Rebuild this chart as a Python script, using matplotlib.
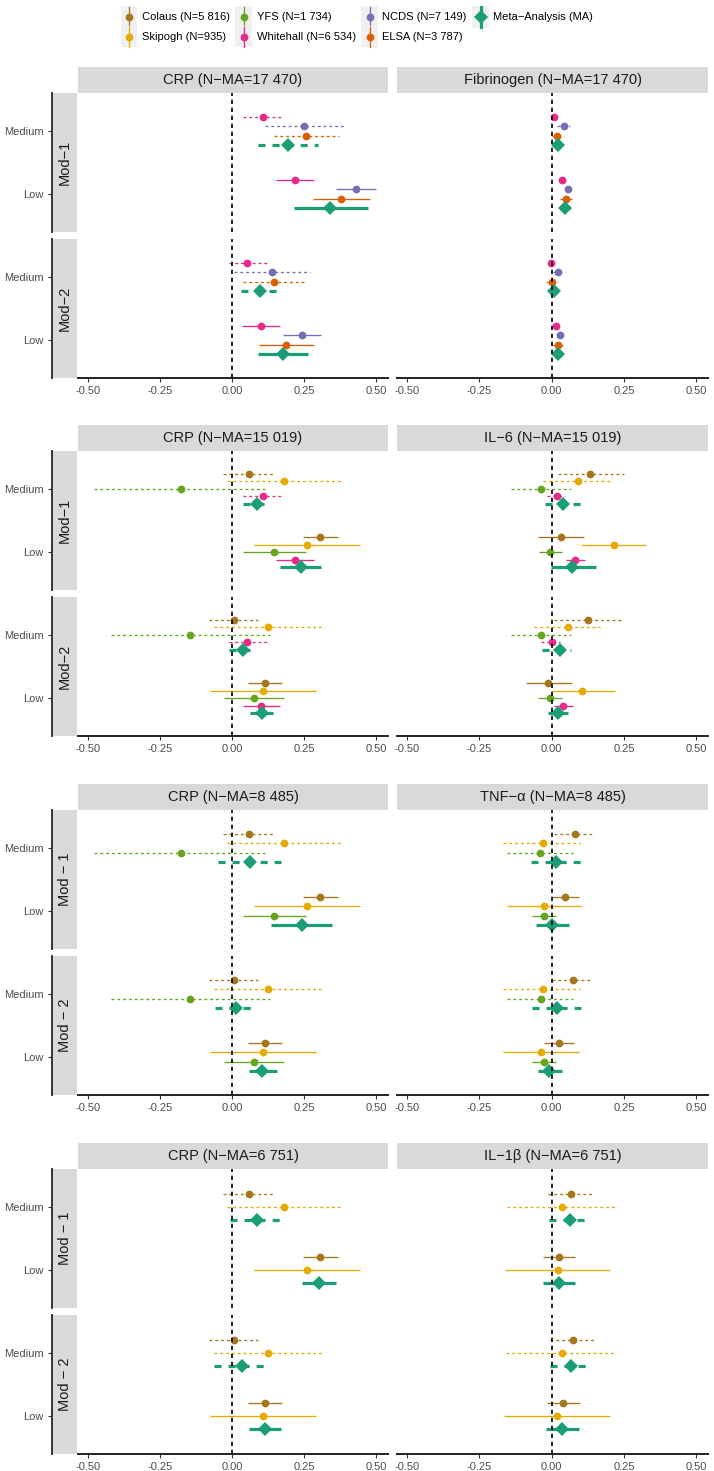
import numpy as np
import matplotlib
matplotlib.use('Agg')
import matplotlib.pyplot as plt
from matplotlib.lines import Line2D
from matplotlib.patches import Rectangle
from matplotlib.legend_handler import HandlerBase

plt.rcParams['font.family'] = ['Liberation Sans', 'DejaVu Sans']

W, H = 714, 1471

# studies, legend labels and colours (Dark2)
studies = ['Colaus', 'Skipogh', 'YFS', 'Whitehall', 'NCDS', 'ELSA', 'MA']
study_labels = ['Colaus (N=5 816)', 'Skipogh (N=935)', 'YFS (N=1 734)', 'Whitehall (N=6 534)',
                'NCDS (N=7 149)', 'ELSA (N=3 787)', 'Meta\u2212Analysis (MA)']
study_colors = ['#A6761D', '#E6AB02', '#66A61E', '#E7298A', '#7570B3', '#D95F02', '#1B9E77']

levels = ['Medium', 'Low']
xticks = [-0.5, -0.25, 0, 0.25, 0.5]
xtick_labels = ['-0.50', '-0.25', '0.00', '0.25', '0.50']

# every list: one row per study, columns = Mod-1 Medium, Mod-1 Low, Mod-2 Medium, Mod-2 Low
# row 1 : CRP / Fibrinogen
r1_studies = ['Whitehall', 'NCDS', 'ELSA', 'MA']
crp1_est = [[0.107, 0.217, 0.052, 0.099], [0.248, 0.428, 0.138, 0.241], [0.255, 0.376, 0.143, 0.188], [0.193, 0.339, 0.097, 0.176]]
crp1_lo = [[0.036, 0.150, -0.012, 0.035], [0.113, 0.358, 0.005, 0.176], [0.144, 0.280, 0.036, 0.094], [0.089, 0.213, 0.030, 0.089]]
crp1_hi = [[0.173, 0.285, 0.121, 0.165], [0.390, 0.500, 0.269, 0.309], [0.370, 0.477, 0.248, 0.283], [0.298, 0.469, 0.165, 0.262]]
fib_est = [[0.006, 0.035, -0.001, 0.015], [0.041, 0.057, 0.023, 0.027], [0.019, 0.050, 0.001, 0.020], [0.022, 0.046, 0.007, 0.021]]
fib_lo = [[-0.004, 0.025, -0.011, 0.005], [0.019, 0.047, 0.003, 0.017], [0.000, 0.029, -0.021, 0.000], [0.008, 0.032, -0.006, 0.008]]
fib_hi = [[0.016, 0.045, 0.009, 0.025], [0.064, 0.067, 0.045, 0.037], [0.041, 0.071, 0.023, 0.039], [0.036, 0.062, 0.020, 0.034]]

# row 2 : CRP / IL-6
r2_studies = ['Colaus', 'Skipogh', 'YFS', 'Whitehall', 'MA']
crp2_est = [[0.057, 0.304, 0.005, 0.113], [0.179, 0.258, 0.125, 0.107], [-0.179, 0.146, -0.146, 0.077], [0.107, 0.217, 0.052, 0.100], [0.084, 0.237, 0.036, 0.102]]
crp2_lo = [[-0.032, 0.245, -0.080, 0.056], [-0.019, 0.074, -0.065, -0.077], [-0.479, 0.036, -0.421, -0.027], [0.036, 0.150, -0.012, 0.036], [0.036, 0.167, -0.012, 0.063]]
crp2_hi = [[0.142, 0.367, 0.089, 0.173], [0.376, 0.443, 0.309, 0.292], [0.115, 0.256, 0.132, 0.181], [0.173, 0.285, 0.121, 0.165], [0.135, 0.309, 0.084, 0.142]]
il6_est = [[0.133, 0.032, 0.126, -0.012], [0.090, 0.215, 0.057, 0.106], [-0.036, -0.005, -0.036, -0.006], [0.017, 0.082, 0.000, 0.039], [0.039, 0.070, 0.027, 0.022]]
il6_lo = [[0.021, -0.046, 0.009, -0.090], [-0.030, 0.100, -0.063, 0.000], [-0.142, -0.044, -0.142, -0.046], [-0.017, 0.050, -0.037, 0.006], [-0.023, -0.003, -0.034, -0.014]]
il6_hi = [[0.249, 0.110, 0.241, 0.070], [0.211, 0.326, 0.168, 0.217], [0.067, 0.034, 0.067, 0.034], [0.044, 0.114, 0.029, 0.073], [0.106, 0.152, 0.067, 0.057]]

# row 3 : CRP / TNF-a
r3_studies = ['Colaus', 'Skipogh', 'YFS', 'MA']
crp3_est = [[0.057, 0.304, 0.005, 0.113], [0.179, 0.258, 0.125, 0.107], [-0.179, 0.146, -0.146, 0.077], [0.060, 0.242, 0.012, 0.104]]
crp3_lo = [[-0.032, 0.245, -0.080, 0.056], [-0.019, 0.074, -0.065, -0.077], [-0.479, 0.036, -0.421, -0.027], [-0.048, 0.135, -0.061, 0.057]]
crp3_hi = [[0.142, 0.367, 0.089, 0.173], [0.376, 0.443, 0.309, 0.292], [0.115, 0.256, 0.132, 0.181], [0.169, 0.347, 0.081, 0.155]]
tnf_est = [[0.081, 0.044, 0.075, 0.024], [-0.032, -0.028, -0.032, -0.037], [-0.041, -0.028, -0.038, -0.028], [0.016, 0.001, 0.017, -0.008]]
tnf_lo = [[0.006, 0.000, 0.000, -0.026], [-0.168, -0.155, -0.168, -0.168], [-0.155, -0.070, -0.155, -0.070], [-0.072, -0.053, -0.070, -0.049]]
tnf_hi = [[0.146, 0.094, 0.140, 0.077], [0.096, 0.100, 0.096, 0.094], [0.073, 0.015, 0.073, 0.015], [0.102, 0.058, 0.100, 0.036]]

# row 4 : CRP / IL-1b
r4_studies = ['Colaus', 'Skipogh', 'MA']
crp4_est = [[0.057, 0.304, 0.005, 0.113], [0.179, 0.258, 0.125, 0.107], [0.084, 0.300, 0.034, 0.113]]
crp4_lo = [[-0.032, 0.245, -0.080, 0.056], [-0.019, 0.074, -0.065, -0.077], [-0.009, 0.242, -0.065, 0.057]]
crp4_hi = [[0.142, 0.367, 0.089, 0.173], [0.376, 0.443, 0.309, 0.292], [0.173, 0.358, 0.121, 0.169]]
il1b_est = [[0.068, 0.024, 0.074, 0.038], [0.035, 0.021, 0.035, 0.017], [0.063, 0.024, 0.067, 0.036]]
il1b_lo = [[-0.012, -0.031, -0.007, -0.017], [-0.155, -0.161, -0.158, -0.166], [-0.010, -0.029, -0.007, -0.019]]
il1b_hi = [[0.143, 0.081, 0.148, 0.097], [0.222, 0.200, 0.218, 0.200], [0.132, 0.079, 0.137, 0.093]]

titles = [['CRP (N\u2212MA=17 470)', 'Fibrinogen (N\u2212MA=17 470)'],
          ['CRP (N\u2212MA=15 019)', 'IL\u22126 (N\u2212MA=15 019)'],
          ['CRP (N\u2212MA=8 485)', 'TNF\u2212\u03b1 (N\u2212MA=8 485)'],
          ['CRP (N\u2212MA=6 751)', 'IL\u22121\u03b2 (N\u2212MA=6 751)']]
mod_labels = [['Mod\u22121', 'Mod\u22122'], ['Mod\u22121', 'Mod\u22122'],
              ['Mod \u2212 1', 'Mod \u2212 2'], ['Mod \u2212 1', 'Mod \u2212 2']]

rows = [
    (r1_studies, [(crp1_est, crp1_lo, crp1_hi), (fib_est, fib_lo, fib_hi)]),
    (r2_studies, [(crp2_est, crp2_lo, crp2_hi), (il6_est, il6_lo, il6_hi)]),
    (r3_studies, [(crp3_est, crp3_lo, crp3_hi), (tnf_est, tnf_lo, tnf_hi)]),
    (r4_studies, [(crp4_est, crp4_lo, crp4_hi), (il1b_est, il1b_lo, il1b_hi)]),
]

# layout in pixels
row_top = [67, 425, 784, 1143]
strip_h, panel_h, gap = 26, 139, 7
col_x, col_w = [78, 397], [310, 311]
STRIP = '#D9D9D9'
dotted = (0, (2.2, 2.2))

fig = plt.figure(figsize=(W / 100, H / 100), dpi=100)


def px_axes(x, y, w, h):
    return fig.add_axes([x / W, 1 - (y + h) / H, w / W, h / H])


def strip_axes(x, y, w, h, text, rot=0):
    a = px_axes(x, y, w, h)
    a.set_facecolor(STRIP)
    a.set_xticks([]); a.set_yticks([])
    for s in a.spines.values():
        s.set_visible(False)
    a.text(0.5, 0.5, text, transform=a.transAxes, ha='center', va='center',
           fontsize=10.5, color='#1A1A1A', rotation=rot)
    return a


for r, (st, panels) in enumerate(rows):
    n = len(st)
    for c, (est, lo, hi) in enumerate(panels):
        strip_axes(col_x[c], row_top[r], col_w[c], strip_h, titles[r][c])
        for f in range(2):
            y0 = row_top[r] + strip_h + f * (panel_h + gap)
            ax = px_axes(col_x[c], y0, col_w[c], panel_h)
            for i, s in enumerate(st):
                k = studies.index(s)
                ma = s == 'MA'
                off = (i - (n - 1) / 2) * 0.6 / n
                for j, lev in enumerate(levels):
                    m = f * 2 + j
                    y = j + off
                    ax.hlines(y, lo[i][m], hi[i][m], color=study_colors[k],
                              lw=2.3 if ma else 0.95,
                              linestyles=dotted if lev == 'Medium' else 'solid', zorder=2)
                    ax.plot([est[i][m]], [y], linestyle='none', marker='D' if ma else 'o',
                            ms=7 if ma else 5.6, mew=0, color=study_colors[k], zorder=3)
            ax.axvline(0, color='black', lw=1.2, linestyle=(0, (2.6, 2.2)), zorder=4)
            ax.set_xlim(-0.535, 0.54)
            ax.set_ylim(1.6, -0.6)
            ax.spines['top'].set_visible(False)
            ax.spines['right'].set_visible(False)
            ax.tick_params(length=3, width=0.8, color='#333333', labelcolor='#4D4D4D',
                           labelsize=8, pad=3)
            if c == 0:
                ax.spines['left'].set_position(('outward', 18.7))
                ax.spines['left'].set_linewidth(1.4)
                ax.spines['left'].set_color('#333333')
                ax.set_yticks([0, 1])
                ax.set_yticklabels(levels)
                strip_axes(53, y0, 24, panel_h, mod_labels[r][f], rot=90)
            else:
                ax.spines['left'].set_visible(False)
                ax.set_yticks([])
            if f == 1:
                ax.spines['bottom'].set_linewidth(1.4)
                ax.spines['bottom'].set_color('#222222')
                ax.set_xticks(xticks)
                ax.set_xticklabels(xtick_labels)
            else:
                ax.spines['bottom'].set_visible(False)
                ax.set_xticks([])


class KeyHandler(HandlerBase):
    # vertical pointrange key on a light grey square, like ggplot
    def create_artists(self, legend, orig, xd, yd, w, h, fontsize, trans):
        x0, y0 = -xd, -yd
        cx = x0 + w / 2
        bg = Rectangle((x0, y0 - 0.05 * h), w, 1.1 * h, facecolor='#F0F0F0', edgecolor='none')
        ln = Line2D([cx, cx], [y0 - 0.02 * h, y0 + 1.02 * h], color=orig.get_color(),
                    lw=orig.get_linewidth())
        pt = Line2D([cx], [y0 + h / 2], linestyle='none', marker=orig.get_marker(),
                    ms=orig.get_markersize(), mew=0, color=orig.get_color())
        for a in (bg, ln, pt):
            a.set_transform(trans)
        return [bg, ln, pt]


handles = [Line2D([], [], color=col, lw=2.3 if s == 'MA' else 0.95,
                  marker='D' if s == 'MA' else 'o', ms=7 if s == 'MA' else 5.6)
           for s, col in zip(studies, study_colors)]
fig.legend(handles, study_labels, loc='upper center', bbox_to_anchor=(0.5, 1.0), ncol=4,
           frameon=False, fontsize=8, handler_map={Line2D: KeyHandler()},
           handlelength=1.5, handleheight=2.3, labelspacing=0.05, columnspacing=0.5,
           handletextpad=0.4, borderaxespad=0.25)

fig.savefig('out.png', dpi=100, facecolor='white')
